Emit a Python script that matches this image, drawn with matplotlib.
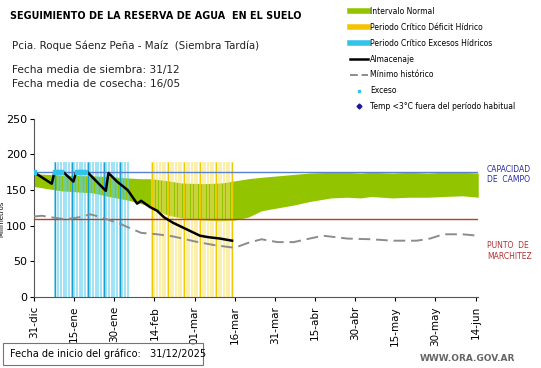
import numpy as np
import matplotlib
matplotlib.use("Agg")
import matplotlib.pyplot as plt
from matplotlib.lines import Line2D
from matplotlib.patches import Rectangle

# ===== datos (días desde 31-dic) =====
tick_days = [0, 15, 30, 45, 60, 75, 90, 105, 120, 135, 150, 165]
tick_labels = ["31-dic", "15-ene", "30-ene", "14-feb", "01-mar", "16-mar",
               "31-mar", "15-abr", "30-abr", "15-may", "30-may", "14-jun"]

capacidad_campo = 175
punto_marchitez = 110

# intervalo normal
band_days = [0, 10, 22, 28, 35, 40, 43, 46, 50, 55, 63, 70, 75, 80, 85, 91, 97,
             103, 111, 117, 122, 126, 134, 140, 147, 153, 160, 166]
band_upper = [173, 171, 170, 169, 167, 166, 166, 165, 163, 160, 159, 160, 163, 166, 168, 170, 172,
              174, 175, 175, 174, 175, 174, 175, 174, 175, 175, 174]
band_lower = [155, 149, 146, 141, 136, 131, 127, 121, 115, 111, 108, 107, 108, 112, 121, 125, 129,
              134, 139, 140, 139, 141, 139, 140, 140, 141, 142, 140]

# mínimo histórico
min_days = [0, 3, 6, 12, 17, 21, 25, 28, 32, 35, 40, 46, 52, 60, 67, 75, 80, 85, 91,
            97, 103, 108, 117, 126, 134, 143, 148, 153, 160, 166]
min_vals = [113, 114, 112, 109, 112, 116, 112, 108, 103, 98, 90, 88, 85, 78, 73, 69, 76, 81, 77,
            77, 82, 86, 82, 81, 79, 79, 82, 88, 88, 86]

# almacenaje
alm_days = [0, 6.6, 7.6, 11, 14.7, 15.7, 20, 26.8, 27.8, 31, 35, 38.5, 40, 43.4, 46, 48.5,
            52, 57, 62, 65, 69.5, 74]
alm_vals = [175, 159, 175, 175, 162, 175, 175, 149, 174, 162, 150, 131, 135, 126, 121, 112,
            104, 95, 86, 84, 82, 79]

# exceso
exceso_days = [0, 8, 9, 10, 16, 17, 18, 19]
exceso_vals = [175, 175, 175, 175, 175, 175, 175, 175]

# periodos críticos
excesos_inicio, excesos_fin = 8, 35
deficit_inicio, deficit_fin = 44, 74
altura_barras = 190

fig = plt.figure(figsize=(5.41, 3.68), dpi=100)
ax = fig.add_axes([0.063, 0.193, 0.821, 0.484])

ax.fill_between(band_days, band_lower, band_upper, color="#92c500", lw=0, zorder=1)

exc_days = np.arange(excesos_inicio, excesos_fin + 1)
ax.vlines(exc_days, 0, altura_barras, colors="#5fd0ee", lw=1.2, alpha=0.7, zorder=2)
ax.vlines(exc_days[::6], 0, altura_barras, colors="#1a9fcf", lw=1.0, zorder=2)
def_days = np.arange(deficit_inicio, deficit_fin + 1)
ax.vlines(def_days, 0, altura_barras, colors="#f7e26a", lw=1.2, alpha=0.65, zorder=2)
ax.vlines(def_days[::6], 0, altura_barras, colors="#f0c800", lw=1.0, zorder=2)

ax.axhline(capacidad_campo, color="#5b80d0", lw=1, zorder=3)
ax.axhline(punto_marchitez, color="#c0392b", lw=1, zorder=3)

ax.plot(min_days, min_vals, color="#8c8c8c", lw=1.4, dashes=(6, 3), zorder=4)
ax.plot(alm_days, alm_vals, color="black", lw=1.8, zorder=5)
ax.scatter(exceso_days, exceso_vals, s=6, marker="s", color="#33c3e8", zorder=6)

ax.set_xlim(0, 166)
ax.set_ylim(0, 250)
ax.set_yticks([0, 50, 100, 150, 200, 250])
ax.set_xticks(tick_days)
ax.set_xticklabels(tick_labels, rotation=90, fontsize=7.5)
ax.tick_params(axis="y", labelsize=8, length=3, pad=2, direction="out")
ax.tick_params(axis="x", length=3, direction="out")
for s in ["top", "right"]:
    ax.spines[s].set_visible(False)
ax.spines["left"].set_color("#555555")
ax.spines["bottom"].set_color("#555555")
ax.set_ylabel("Milímetros", fontsize=5)
ax.yaxis.set_label_coords(-0.066, 0.44)

# textos de referencia
fig.text(0.9, 0.525, "CAPACIDAD\nDE  CAMPO", color="#2a2aa0", fontsize=5.5, va="center")
fig.text(0.9, 0.318, "PUNTO  DE\nMARCHITEZ", color="#b03030", fontsize=5.5, va="center")

# títulos
fig.text(0.018, 0.957, "SEGUIMIENTO DE LA RESERVA DE AGUA  EN EL SUELO", fontsize=6.9,
         fontweight="bold", va="center")
fig.text(0.022, 0.875, "Pcia. Roque Sáenz Peña - Maíz  (Siembra Tardía)", fontsize=7.4, va="center",
         color="#222222")
fig.text(0.022, 0.81, "Fecha media de siembra: 31/12", fontsize=7.6, va="center", color="#222222")
fig.text(0.022, 0.772, "Fecha media de cosecha: 16/05", fontsize=7.6, va="center", color="#222222")

# leyenda
handles = [
    Line2D([], [], color="#92c500", lw=4),
    Line2D([], [], color="#f5c400", lw=4),
    Line2D([], [], color="#33c3e8", lw=4),
    Line2D([], [], color="black", lw=1.8),
    Line2D([], [], color="#8c8c8c", lw=1.4, dashes=(4, 2)),
    Line2D([], [], color="#33c3e8", marker="s", ms=2, lw=0),
    Line2D([], [], color="#1a1a99", marker="D", ms=2.5, lw=0),
]
labels = ["Intervalo Normal", "Periodo Crítico Déficit Hídrico", "Periodo Crítico Excesos Hídricos",
          "Almacenaje", "Mínimo histórico", "Exceso", "Temp <3°C fuera del período habitual"]
fig.legend(handles, labels, loc="upper left", bbox_to_anchor=(0.635, 1.0), frameon=False,
           fontsize=5.5, handlelength=2.3, handletextpad=0.3, labelspacing=0.9)

# pie
fig.patches.append(Rectangle((0.006, 0.008), 0.37, 0.06, transform=fig.transFigure,
                             fill=False, edgecolor="#8a6a6a", lw=0.8))
fig.text(0.018, 0.038, "Fecha de inicio del gráfico:   31/12/2025", fontsize=7, va="center")
fig.text(0.953, 0.025, "WWW.ORA.GOV.AR", fontsize=6.5, color="#666666", fontweight="bold",
         ha="right", va="center")

fig.savefig("out.png", dpi=100)
